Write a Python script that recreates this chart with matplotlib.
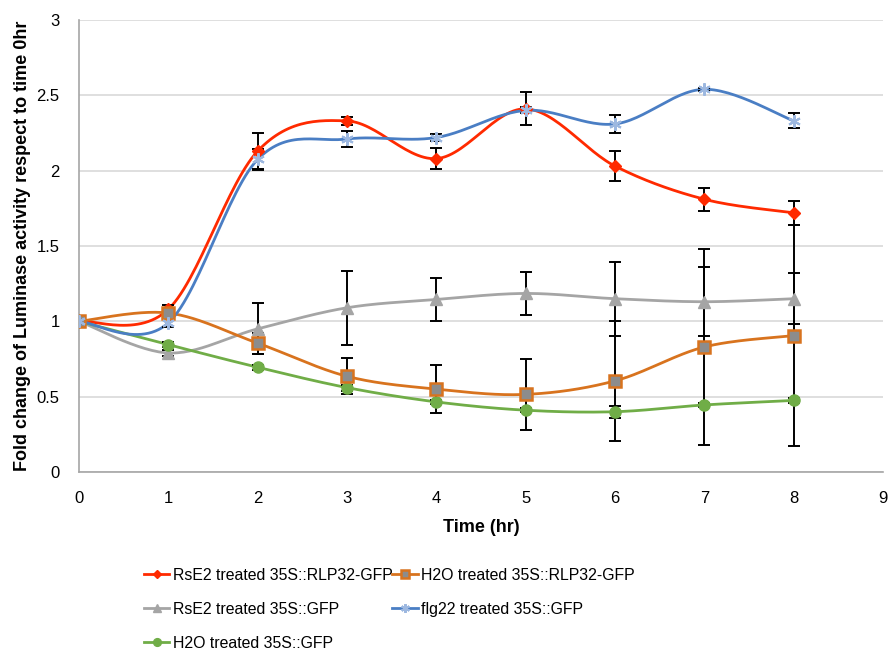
import numpy as np
import matplotlib.pyplot as plt

plt.rcParams['font.family'] = ['Liberation Sans', 'DejaVu Sans']

# time points (hr)
time = [0, 1, 2, 3, 4, 5, 6, 7, 8]

# fold change values and error bars for each line
rse2_rlp32 = [1.0, 1.08, 2.13, 2.33, 2.08, 2.41, 2.03, 1.81, 1.72]
rse2_rlp32_err = [0.0, 0.03, 0.12, 0.027, 0.07, 0.11, 0.10, 0.075, 0.08]

h2o_rlp32 = [1.0, 1.055, 0.855, 0.635, 0.55, 0.515, 0.605, 0.83, 0.905]
h2o_rlp32_err = [0.0, 0.02, 0.07, 0.12, 0.16, 0.235, 0.40, 0.65, 0.735]

rse2_gfp = [1.0, 0.79, 0.95, 1.09, 1.145, 1.185, 1.15, 1.13, 1.15]
rse2_gfp_err = [0.0, 0.02, 0.17, 0.245, 0.145, 0.14, 0.245, 0.23, 0.17]

flg22_gfp = [1.0, 0.99, 2.075, 2.21, 2.22, 2.40, 2.31, 2.54, 2.33]
flg22_gfp_err = [0.0, 0.03, 0.07, 0.05, 0.025, 0.02, 0.06, 0.01, 0.05]

h2o_gfp = [1.0, 0.845, 0.695, 0.56, 0.465, 0.41, 0.40, 0.445, 0.475]
h2o_gfp_err = [0.0, 0.015, 0.015, 0.02, 0.015, 0.015, 0.04, 0.015, 0.015]


def smooth(x, y, n=30):
    # Excel-like smoothed line (Catmull-Rom bezier)
    x = np.asarray(x, float)
    y = np.asarray(y, float)
    px = np.concatenate([[x[0]], x, [x[-1]]])
    py = np.concatenate([[y[0]], y, [y[-1]]])
    xs, ys = [], []
    t = np.linspace(0, 1, n)
    for i in range(1, len(px) - 2):
        p0 = np.array([px[i], py[i]])
        p3 = np.array([px[i + 1], py[i + 1]])
        c1 = p0 + (np.array([px[i + 1], py[i + 1]]) - np.array([px[i - 1], py[i - 1]])) / 6
        c2 = p3 - (np.array([px[i + 2], py[i + 2]]) - np.array([px[i], py[i]])) / 6
        b = ((1 - t) ** 3)[:, None] * p0 + (3 * (1 - t) ** 2 * t)[:, None] * c1 \
            + (3 * (1 - t) * t ** 2)[:, None] * c2 + (t ** 3)[:, None] * p3
        xs.extend(b[:, 0])
        ys.extend(b[:, 1])
    return xs, ys


fig = plt.figure(figsize=(8.89, 6.53), dpi=100)
ax = fig.add_axes([0.0889, 0.2772, 0.9045, 0.6922])

series = [
    ('RsE2 treated 35S::RLP32-GFP', rse2_rlp32, rse2_rlp32_err, '#FF2A00',
     dict(marker='D', markersize=6, markerfacecolor='#FF2A00', markeredgecolor='#FF2A00')),
    ('RsE2 treated 35S::GFP', rse2_gfp, rse2_gfp_err, '#A5A5A5',
     dict(marker='^', markersize=8, markerfacecolor='#A5A5A5', markeredgecolor='#A5A5A5')),
    ('H2O treated 35S::GFP', h2o_gfp, h2o_gfp_err, '#70AD47',
     dict(marker='o', markersize=8, markerfacecolor='#70AD47', markeredgecolor='#70AD47')),
    ('H2O treated 35S::RLP32-GFP', h2o_rlp32, h2o_rlp32_err, '#D8731E',
     dict(marker='s', markersize=8, markerfacecolor='#8C8C8C', markeredgecolor='#D8731E',
          markeredgewidth=1.8)),
    ('flg22 treated 35S::GFP', flg22_gfp, flg22_gfp_err, '#4A7EC4',
     dict(marker=(6, 2, 0), markersize=9, markerfacecolor='#9DB8E0', markeredgecolor='#9DB8E0',
          markeredgewidth=1.5)),
]

handles = []
for label, y, err, color, mk in series:
    sx, sy = smooth(time, y)
    ax.plot(sx, sy, color=color, lw=2, zorder=3)
    ax.errorbar(time, y, yerr=err, fmt='none', ecolor='black', elinewidth=1.4,
                capsize=4, capthick=1.4, zorder=3.5)
    ax.plot(time, y, linestyle='none', zorder=4, **mk)
    h, = ax.plot([], [], color=color, lw=2, label=label,
                 **{**mk, 'markersize': mk['markersize'] * 0.7})
    handles.append(h)

ax.set_xlim(0, 9)
ax.set_ylim(0, 3)
ax.set_xticks(range(0, 10))
ax.set_yticks([0, 0.5, 1, 1.5, 2, 2.5, 3])
ax.set_yticklabels(['0', '0.5', '1', '1.5', '2', '2.5', '3'])
ax.tick_params(length=0, labelsize=12)
ax.tick_params(axis='x', pad=14)
ax.tick_params(axis='y', pad=14)
ax.yaxis.grid(True, color='#D9D9D9', lw=1.2)
ax.set_axisbelow(True)
for s in ['top', 'right']:
    ax.spines[s].set_visible(False)
for s in ['left', 'bottom']:
    ax.spines[s].set_color('#A6A6A6')
    ax.spines[s].set_linewidth(1.2)

ax.set_xlabel('Time (hr)', fontsize=13, fontweight='bold', labelpad=9)
ax.set_ylabel('Fold change of Luminase activity respect to time 0hr', fontsize=13,
              fontweight='bold', labelpad=4)

fig.legend(handles=handles, ncol=2, loc='upper left', bbox_to_anchor=(0.155, 0.14),
           frameon=False, fontsize=11.4, handlelength=1.6, handletextpad=0.2,
           columnspacing=0.0, labelspacing=1.2, borderaxespad=0)

fig.savefig('out.png', dpi=100)
